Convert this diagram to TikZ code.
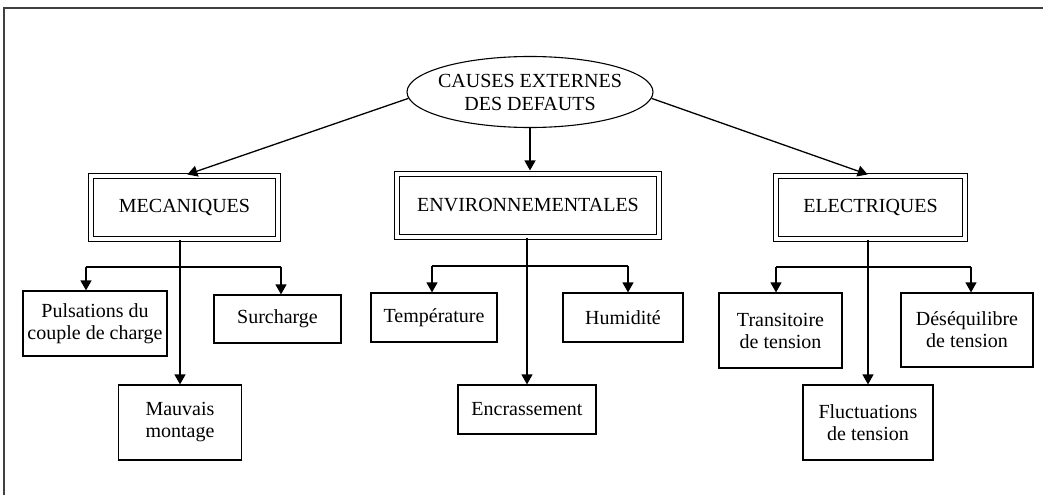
\documentclass[tikz,border=0pt]{standalone}
\usepackage{fontspec}
\setmainfont{Liberation Serif}
\usetikzlibrary{shapes.geometric,arrows.meta}
\begin{document}
\begin{tikzpicture}[x=1pt,y=-1pt,
  txt/.style={font=\fontsize{20}{22}\selectfont, align=center, inner sep=0pt},
  leaf/.style={txt, draw, line width=1.2pt},
  cat/.style={txt, draw, double, double distance=3.4pt, line width=1.1pt, minimum height=63pt},
  root/.style={txt, font=\fontsize{20}{23}\selectfont, ellipse, draw, line width=1.1pt, inner xsep=-7pt, minimum width=246pt, minimum height=71pt},
  arr/.style={line width=1.3pt, -{Triangle[length=10pt,width=11pt]}},
  bus/.style={line width=1.3pt},
  frame/.style={line width=1.5pt, black!75}]
\useasboundingbox (0,0) rectangle (1043,495);
\coordinate (fb) at (4,495);
\coordinate (ftl) at (4,8);
\coordinate (ftr) at (1043,8);
\draw[frame] (fb) -- (ftl) -- (ftr);

\node[root] (root) at (530,92) {CAUSES EXTERNES\\DES DEFAUTS};

\node[cat, minimum width=187pt] (mec) at (184.5,207.5) {MECANIQUES};
\node[cat, minimum width=262pt] (env) at (528,205.5) {ENVIRONNEMENTALES};
\node[cat, minimum width=189pt] (elec) at (870.5,207.5) {ELECTRIQUES};

\node[leaf, minimum width=144pt, minimum height=65pt] (puls) at (95,323.5) {Pulsations du\\couple de charge};
\node[leaf, minimum width=127pt, minimum height=48pt] (surch) at (277.5,319) {Surcharge};
\node[leaf, minimum width=123pt, minimum height=75pt] (mauv) at (180,422.5) {Mauvais\\montage};

\node[leaf, minimum width=126pt, minimum height=49pt] (temp) at (434,317.5) {Température};
\node[leaf, minimum width=120pt, minimum height=49pt] (humi) at (623,317.5) {Humidité};
\node[leaf, minimum width=138pt, minimum height=49pt] (encr) at (527,409.5) {Encrassement};

\node[leaf, minimum width=123pt, minimum height=75pt] (trans) at (780.5,330.5) {Transitoire\\de tension};
\node[leaf, minimum width=132pt, minimum height=74pt] (deseq) at (967,330) {Déséquilibre\\de tension};
\node[leaf, minimum width=130pt, minimum height=75pt] (fluct) at (868,422.5) {Fluctuations\\de tension};

% root to categories
\draw[arr, shorten >=3pt] (root.183) -- (mec.north);
\draw[arr, shorten >=3pt] (root.south) -- (root.south |- env.north);
\draw[arr, shorten >=3pt] (root.-3) -- (elec.north);

% mecaniques
\coordinate (mL) at (86,267);
\coordinate (mR) at (281,267);
\draw[arr] (mauv.north |- mec.south) -- (mauv.north);
\draw[bus] (mL) -- (mR);
\draw[arr] (mL) -- (mL |- puls.north);
\draw[arr] (mR) -- (mR |- surch.north);

% environnementales
\coordinate (eL) at (432,266);
\coordinate (eR) at (628,266);
\draw[arr] (encr.north |- env.south) -- (encr.north);
\draw[bus] (eL) -- (eR);
\draw[arr] (eL) -- (eL |- temp.north);
\draw[arr] (eR) -- (eR |- humi.north);

% electriques
\coordinate (lL) at (776,267);
\coordinate (lR) at (971,267);
\draw[arr] (fluct.north |- elec.south) -- (fluct.north);
\draw[bus] (lL) -- (lR);
\draw[arr] (lL) -- (lL |- trans.north);
\draw[arr] (lR) -- (lR |- deseq.north);
\end{tikzpicture}
\end{document}
